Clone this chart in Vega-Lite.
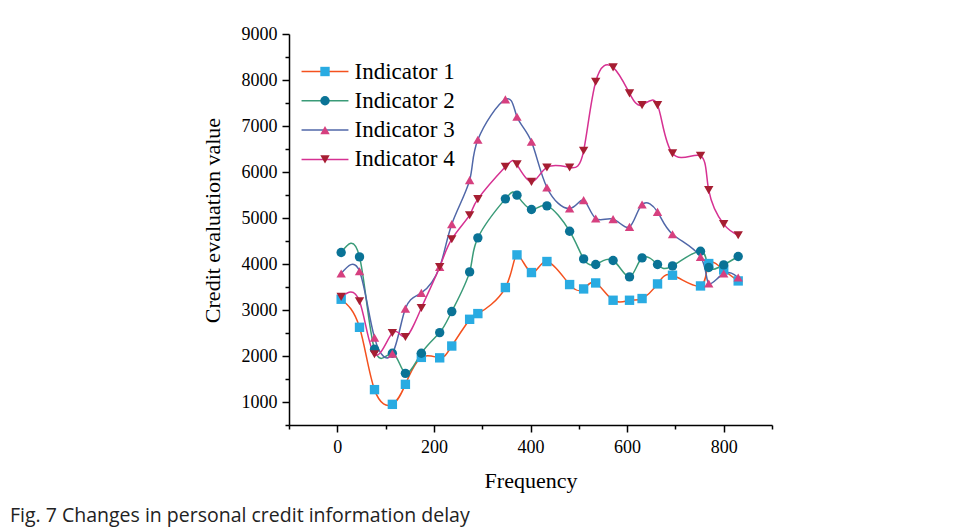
{
  "$schema": "https://vega.github.io/schema/vega-lite/v6.json",
  "autosize": {"type": "none"},
  "width": 483,
  "height": 391,
  "padding": {"left": 289, "top": 34, "right": 184, "bottom": 105},
  "background": "white",
  "title": {
    "text": "Fig. 7 Changes in personal credit information delay",
    "orient": "bottom",
    "anchor": "start",
    "frame": "group",
    "dx": -279,
    "offset": 16,
    "font": "Open Sans",
    "fontSize": 19.5,
    "fontWeight": "normal",
    "color": "#222222"
  },
  "config": {
    "view": {"stroke": null},
    "axis": {
      "grid": false,
      "domainColor": "black",
      "domainWidth": 1.5,
      "tickColor": "black",
      "tickWidth": 1.5,
      "labelFont": "Liberation Serif",
      "labelFontSize": 18,
      "labelColor": "black",
      "titleFont": "Liberation Serif",
      "titleFontSize": 22,
      "titleFontWeight": "normal",
      "titleColor": "black"
    },
    "legend": {
      "labelFont": "Liberation Serif",
      "labelFontSize": 23,
      "labelColor": "black",
      "padding": 0,
      "rowPadding": 5.3,
      "symbolSize": 88,
      "labelOffset": 18
    }
  },
  "data": {
    "values": [
      {"x": 8, "value": 3234, "series": "Indicator 1"},
      {"x": 46, "value": 2624, "series": "Indicator 1"},
      {"x": 77, "value": 1269, "series": "Indicator 1"},
      {"x": 114, "value": 949, "series": "Indicator 1"},
      {"x": 141, "value": 1384, "series": "Indicator 1"},
      {"x": 174, "value": 1970, "series": "Indicator 1"},
      {"x": 212, "value": 1960, "series": "Indicator 1"},
      {"x": 237, "value": 2217, "series": "Indicator 1"},
      {"x": 274, "value": 2798, "series": "Indicator 1"},
      {"x": 291, "value": 2922, "series": "Indicator 1"},
      {"x": 348, "value": 3488, "series": "Indicator 1"},
      {"x": 372, "value": 4198, "series": "Indicator 1"},
      {"x": 402, "value": 3814, "series": "Indicator 1"},
      {"x": 434, "value": 4054, "series": "Indicator 1"},
      {"x": 481, "value": 3553, "series": "Indicator 1"},
      {"x": 510, "value": 3458, "series": "Indicator 1"},
      {"x": 535, "value": 3588, "series": "Indicator 1"},
      {"x": 571, "value": 3212, "series": "Indicator 1"},
      {"x": 605, "value": 3212, "series": "Indicator 1"},
      {"x": 631, "value": 3249, "series": "Indicator 1"},
      {"x": 663, "value": 3567, "series": "Indicator 1"},
      {"x": 694, "value": 3756, "series": "Indicator 1"},
      {"x": 752, "value": 3523, "series": "Indicator 1"},
      {"x": 769, "value": 4010, "series": "Indicator 1"},
      {"x": 800, "value": 3870, "series": "Indicator 1"},
      {"x": 830, "value": 3632, "series": "Indicator 1"},

      {"x": 8, "value": 4250, "series": "Indicator 2"},
      {"x": 46, "value": 4154, "series": "Indicator 2"},
      {"x": 77, "value": 2146, "series": "Indicator 2"},
      {"x": 114, "value": 2060, "series": "Indicator 2"},
      {"x": 141, "value": 1623, "series": "Indicator 2"},
      {"x": 174, "value": 2059, "series": "Indicator 2"},
      {"x": 212, "value": 2509, "series": "Indicator 2"},
      {"x": 237, "value": 2966, "series": "Indicator 2"},
      {"x": 274, "value": 3828, "series": "Indicator 2"},
      {"x": 291, "value": 4568, "series": "Indicator 2"},
      {"x": 348, "value": 5416, "series": "Indicator 2"},
      {"x": 372, "value": 5497, "series": "Indicator 2"},
      {"x": 402, "value": 5185, "series": "Indicator 2"},
      {"x": 434, "value": 5264, "series": "Indicator 2"},
      {"x": 481, "value": 4713, "series": "Indicator 2"},
      {"x": 510, "value": 4111, "series": "Indicator 2"},
      {"x": 535, "value": 3989, "series": "Indicator 2"},
      {"x": 571, "value": 4076, "series": "Indicator 2"},
      {"x": 605, "value": 3719, "series": "Indicator 2"},
      {"x": 631, "value": 4132, "series": "Indicator 2"},
      {"x": 663, "value": 3989, "series": "Indicator 2"},
      {"x": 694, "value": 3958, "series": "Indicator 2"},
      {"x": 752, "value": 4278, "series": "Indicator 2"},
      {"x": 769, "value": 3923, "series": "Indicator 2"},
      {"x": 800, "value": 3980, "series": "Indicator 2"},
      {"x": 830, "value": 4163, "series": "Indicator 2"},

      {"x": 8, "value": 3793, "series": "Indicator 3"},
      {"x": 46, "value": 3843, "series": "Indicator 3"},
      {"x": 77, "value": 2400, "series": "Indicator 3"},
      {"x": 114, "value": 2052, "series": "Indicator 3"},
      {"x": 141, "value": 3031, "series": "Indicator 3"},
      {"x": 174, "value": 3371, "series": "Indicator 3"},
      {"x": 212, "value": 3936, "series": "Indicator 3"},
      {"x": 237, "value": 4866, "series": "Indicator 3"},
      {"x": 274, "value": 5823, "series": "Indicator 3"},
      {"x": 291, "value": 6700, "series": "Indicator 3"},
      {"x": 348, "value": 7579, "series": "Indicator 3"},
      {"x": 372, "value": 7200, "series": "Indicator 3"},
      {"x": 402, "value": 6657, "series": "Indicator 3"},
      {"x": 434, "value": 5664, "series": "Indicator 3"},
      {"x": 481, "value": 5207, "series": "Indicator 3"},
      {"x": 510, "value": 5388, "series": "Indicator 3"},
      {"x": 535, "value": 4990, "series": "Indicator 3"},
      {"x": 571, "value": 4975, "series": "Indicator 3"},
      {"x": 605, "value": 4807, "series": "Indicator 3"},
      {"x": 631, "value": 5294, "series": "Indicator 3"},
      {"x": 663, "value": 5133, "series": "Indicator 3"},
      {"x": 694, "value": 4648, "series": "Indicator 3"},
      {"x": 752, "value": 4154, "series": "Indicator 3"},
      {"x": 769, "value": 3575, "series": "Indicator 3"},
      {"x": 800, "value": 3793, "series": "Indicator 3"},
      {"x": 830, "value": 3706, "series": "Indicator 3"},

      {"x": 8, "value": 3284, "series": "Indicator 4"},
      {"x": 46, "value": 3190, "series": "Indicator 4"},
      {"x": 77, "value": 2037, "series": "Indicator 4"},
      {"x": 114, "value": 2500, "series": "Indicator 4"},
      {"x": 141, "value": 2413, "series": "Indicator 4"},
      {"x": 174, "value": 3044, "series": "Indicator 4"},
      {"x": 212, "value": 3936, "series": "Indicator 4"},
      {"x": 237, "value": 4539, "series": "Indicator 4"},
      {"x": 274, "value": 5061, "series": "Indicator 4"},
      {"x": 291, "value": 5410, "series": "Indicator 4"},
      {"x": 348, "value": 6112, "series": "Indicator 4"},
      {"x": 372, "value": 6165, "series": "Indicator 4"},
      {"x": 402, "value": 5786, "series": "Indicator 4"},
      {"x": 434, "value": 6099, "series": "Indicator 4"},
      {"x": 481, "value": 6099, "series": "Indicator 4"},
      {"x": 510, "value": 6461, "series": "Indicator 4"},
      {"x": 535, "value": 7962, "series": "Indicator 4"},
      {"x": 571, "value": 8275, "series": "Indicator 4"},
      {"x": 605, "value": 7710, "series": "Indicator 4"},
      {"x": 631, "value": 7455, "series": "Indicator 4"},
      {"x": 663, "value": 7455, "series": "Indicator 4"},
      {"x": 694, "value": 6404, "series": "Indicator 4"},
      {"x": 752, "value": 6352, "series": "Indicator 4"},
      {"x": 769, "value": 5605, "series": "Indicator 4"},
      {"x": 800, "value": 4866, "series": "Indicator 4"},
      {"x": 830, "value": 4626, "series": "Indicator 4"}
    ]
  },
  "encoding": {
    "x": {
      "field": "x",
      "type": "quantitative",
      "scale": {"domain": [-100, 900], "nice": false, "zero": false},
      "axis": {
        "title": "Frequency",
        "values": [-100, 0, 100, 200, 300, 400, 500, 600, 700, 800, 900],
        "format": "d",
        "labelExpr": "datum.value % 200 === 0 ? datum.label : ''",
        "tickSize": {"condition": {"test": "datum.value % 200 === 0", "value": 7}, "value": 4},
        "labelPadding": 6,
        "titlePadding": 14
      }
    },
    "y": {
      "field": "value",
      "type": "quantitative",
      "scale": {"domain": [500, 9000], "nice": false, "zero": false},
      "axis": {
        "title": "Credit evaluation value",
        "values": [500, 1000, 1500, 2000, 2500, 3000, 3500, 4000, 4500, 5000, 5500, 6000, 6500, 7000, 7500, 8000, 8500, 9000],
        "format": "d",
        "labelExpr": "datum.value % 1000 === 0 ? datum.label : ''",
        "tickSize": {"condition": {"test": "datum.value % 1000 === 0", "value": 7}, "value": 4},
        "labelPadding": 5,
        "titlePadding": 17,
        "titleY": 186
      }
    }
  },
  "layer": [
    {
      "mark": {"type": "line", "interpolate": "natural", "strokeWidth": 1.5},
      "encoding": {
        "stroke": {
          "field": "series",
          "type": "nominal",
          "scale": {
            "domain": ["Indicator 1", "Indicator 2", "Indicator 3", "Indicator 4"],
            "range": ["#F4511E", "#3A9B78", "#5067A8", "#D63192"]
          },
          "legend": {
            "title": null,
            "orient": "none",
            "legendX": 24.5,
            "legendY": 26,
            "symbolType": "M-5.0,0H5.0",
            "symbolStrokeWidth": 1.5
          }
        }
      }
    },
    {
      "mark": {"type": "point", "filled": true, "opacity": 1, "size": 88, "strokeWidth": 0},
      "encoding": {
        "fill": {
          "field": "series",
          "type": "nominal",
          "scale": {"range": ["#29ABE2", "#0A7396", "#D6407F", "#A61E32"]},
          "legend": {
            "title": null,
            "orient": "none",
            "legendX": 24.5,
            "legendY": 26,
            "labelOpacity": 0
          }
        },
        "shape": {
          "field": "series",
          "type": "nominal",
          "scale": {"range": ["square", "circle", "triangle-up", "triangle-down"]},
          "legend": {
            "title": null,
            "orient": "none",
            "legendX": 24.5,
            "legendY": 26,
            "labelOpacity": 0
          }
        }
      }
    }
  ]
}
